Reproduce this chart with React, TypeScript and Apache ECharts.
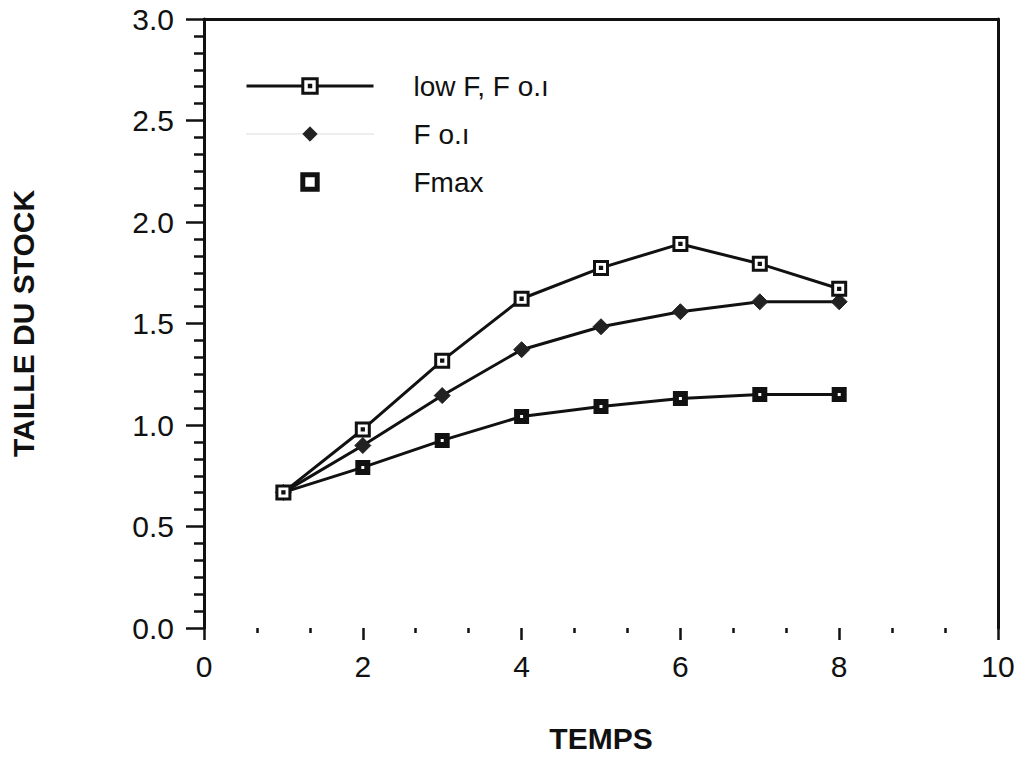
import React, { useEffect, useRef } from "react";
import * as echarts from "echarts";

const temps = [1, 2, 3, 4, 5, 6, 7, 8];
const lowF = [0.668, 0.978, 1.317, 1.622, 1.774, 1.892, 1.794, 1.671];
const fo1 = [0.668, 0.899, 1.145, 1.371, 1.484, 1.558, 1.607, 1.607];
const fmax = [0.668, 0.791, 0.924, 1.042, 1.091, 1.13, 1.15, 1.15];
const seriesNames = ["low F, F o.ı", "F o.ı", "Fmax"];
const xTicks = [0, 2, 4, 6, 8, 10];
const yTicks = [0, 0.5, 1, 1.5, 2, 2.5, 3];

const INK = "#111";
const FONT = "Liberation Sans";
const SQUARE_DOT = "path://M0,0H20V20H0Z M9,9H11V11H9Z";

const pairs = (ys: number[]) => temps.map((x, i) => [x, ys[i]]);

export default function App() {
  const ref = useRef<HTMLDivElement>(null);
  useEffect(() => {
    if (!ref.current) return;
    const chart = echarts.init(ref.current, null, { renderer: "svg" });
    const axisLabel = { fontFamily: FONT, fontSize: 30, color: INK };
    chart.setOption({
      animation: false,
      backgroundColor: "#fff",
      grid: { left: 203, right: 26, top: 19, bottom: 129 },
      legend: {
        left: 240,
        top: 66,
        orient: "vertical",
        itemWidth: 127,
        itemHeight: 18,
        itemGap: 18,
        textStyle: { fontFamily: FONT, fontSize: 28, color: INK, lineHeight: 30, padding: [0, 0, 0, 35] },
        data: [
          { name: seriesNames[0], itemStyle: { color: "#fff", borderColor: INK, borderWidth: 3 }, lineStyle: { color: INK, width: 3 } },
          { name: seriesNames[1], itemStyle: { color: "#222", borderColor: "#222", borderWidth: 1 }, lineStyle: { color: "#bbb", width: 1, type: "dotted" } },
          { name: seriesNames[2], itemStyle: { color: "#fff", borderColor: INK, borderWidth: 5 }, lineStyle: { opacity: 0, width: 0 } },
        ],
      },
      xAxis: [
        {
          type: "value",
          min: xTicks[0],
          max: xTicks[xTicks.length - 1],
          interval: 2,
          name: "TEMPS",
          nameLocation: "middle",
          nameGap: 95,
          nameTextStyle: { fontFamily: FONT, fontSize: 30, fontWeight: "bold", color: INK },
          axisLine: { show: false },
          axisTick: { show: true, length: 12, lineStyle: { color: INK, width: 2.5 } },
          minorTick: { show: true, splitNumber: 3, length: 5, lineStyle: { color: INK, width: 2.5 } },
          splitLine: { show: false },
          axisLabel: { ...axisLabel, margin: 23 },
        },
        {
          type: "value",
          position: "top",
          min: 0,
          max: 10,
          axisLine: { show: true, onZero: false, lineStyle: { color: INK, width: 3 } },
          axisTick: { show: false },
          axisLabel: { show: false },
          splitLine: { show: false },
        },
      ],
      yAxis: [
        {
          type: "value",
          min: yTicks[0],
          max: yTicks[yTicks.length - 1],
          interval: 0.5,
          name: "TAILLE DU STOCK",
          nameLocation: "middle",
          nameGap: 166,
          nameRotate: 90,
          nameTextStyle: { fontFamily: FONT, fontSize: 30, fontWeight: "bold", color: INK },
          axisLine: { show: true, onZero: false, lineStyle: { color: INK, width: 3 } },
          axisTick: { show: true, length: 18, lineStyle: { color: INK, width: 2.5 } },
          minorTick: { show: true, splitNumber: 6, length: 10, lineStyle: { color: INK, width: 2.5 } },
          splitLine: { show: false },
          axisLabel: { ...axisLabel, margin: 30, formatter: (v: number) => v.toFixed(1) },
        },
        {
          type: "value",
          position: "right",
          min: 0,
          max: 3,
          axisLine: { show: true, onZero: false, lineStyle: { color: INK, width: 3 } },
          axisTick: { show: false },
          axisLabel: { show: false },
          splitLine: { show: false },
        },
      ],
      series: [
        {
          name: seriesNames[2],
          type: "line",
          data: pairs(fmax),
          symbol: "rect",
          symbolSize: 9,
          lineStyle: { color: INK, width: 3 },
          itemStyle: { color: "#fff", borderColor: INK, borderWidth: 6 },
          z: 2,
        },
        {
          name: seriesNames[1],
          type: "line",
          data: pairs(fo1),
          symbol: "diamond",
          symbolSize: 16,
          lineStyle: { color: INK, width: 3 },
          itemStyle: { color: "#222", borderColor: "#222", borderWidth: 1 },
          z: 3,
        },
        {
          name: seriesNames[0],
          type: "line",
          data: pairs(lowF),
          symbol: SQUARE_DOT,
          symbolSize: 13,
          lineStyle: { color: INK, width: 3 },
          itemStyle: { color: "#fff", borderColor: INK, borderWidth: 3 },
          z: 4,
        },
      ],
    });
    return () => chart.dispose();
  }, []);
  return <div ref={ref} style={{ position: "fixed", left: 0, top: 0, width: 1024, height: 758 }} />;
}
